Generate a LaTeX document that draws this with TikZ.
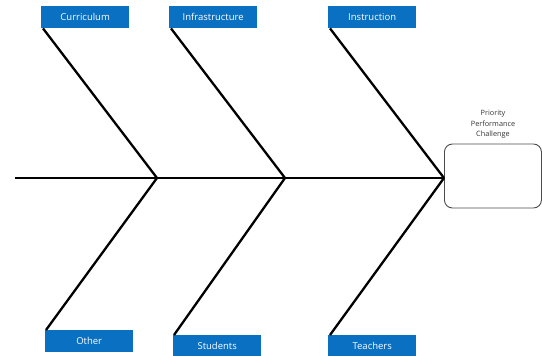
\documentclass[tikz,border=0pt]{standalone}
\usepackage{fontspec}
\setmainfont{Open Sans}
\definecolor{boxblue}{HTML}{0A70C2}
\begin{document}
\begin{tikzpicture}[x=1pt,y=-1pt,
  cat/.style={fill=boxblue,draw=none,text=white,minimum width=88pt,minimum height=22pt,inner sep=0pt,font=\fontsize{9.5}{11}\selectfont},
  bone/.style={line width=2.3pt,black},
  spine/.style={line width=2.2pt,black}]
\useasboundingbox (0,0) rectangle (542,356);
% top boxes
\node[cat,anchor=north west] (cur) at (41,6) {Curriculum};
\node[cat,anchor=north west] (inf) at (169,6) {Infrastructure};
\node[cat,anchor=north west] (ins) at (328,6) {Instruction};
% bottom boxes
\node[cat,anchor=north west] (oth) at (45,330) {Other};
\node[cat,anchor=north west] (stu) at (173,335) {Students};
\node[cat,anchor=north west] (tea) at (328,335) {Teachers};
% head
\node[draw=black!70,line width=0.9pt,rounded corners=8pt,minimum width=97pt,minimum height=64pt,anchor=west] (ppc) at (444,176) {};
\node[align=center,font=\fontsize{7.3}{10.5}\selectfont,text=black!80,anchor=south] (lbl) at (493,142) {Priority\\Performance\\Challenge};
% junctions
\coordinate (tail) at (15,178);
\coordinate (j1) at (157,178);
\coordinate (j2) at (285,178);
\coordinate (j3) at (ppc.west |- tail);
% spine
\draw[spine] (tail) -- (j3);
% bones
\draw[bone] ([xshift=2pt]cur.south west) -- (j1);
\draw[bone] ([xshift=2pt]inf.south west) -- (j2);
\draw[bone] ([xshift=2pt]ins.south west) -- (j3);
\draw[bone] ([xshift=1pt]oth.north west) -- (j1);
\draw[bone] ([xshift=1pt]stu.north west) -- (j2);
\draw[bone] ([xshift=2pt]tea.north west) -- (j3);
\end{tikzpicture}
\end{document}
